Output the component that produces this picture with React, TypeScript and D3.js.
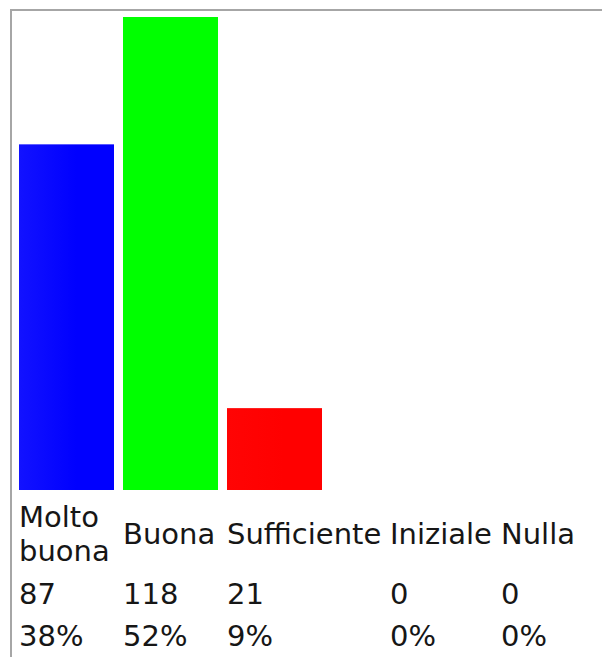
import React, { useMemo } from 'react';
import * as d3 from 'd3';

const categories: string[][] = [['Molto', 'buona'], ['Buona'], ['Sufficiente'], ['Iniziale'], ['Nulla']];
const counts: number[] = [87, 118, 21, 0, 0];
const percents: number[] = [38, 52, 9, 0, 0];
const colors: string[] = ['#0000ff', '#00ff00', '#ff0000', '#ffff00', '#000000'];
const lightColors: string[] = ['#1212ff', '#00ff00', '#ff0404', '#ffff00', '#000000'];

const W = 602;
const H = 657;
const FONT_SIZE = 29;
const FONT = `${FONT_SIZE}px "DejaVu Sans", Verdana, sans-serif`;
const BAR_W = 95;
const GAP = 9;
const LEFT = 19;
const LINE_H = 34;

export default function App() {
  const colX = useMemo(() => {
    const canvas = document.createElement('canvas');
    const ctx = canvas.getContext('2d')!;
    ctx.font = FONT;
    const xs: number[] = [];
    let x = LEFT;
    categories.forEach((lines, i) => {
      xs.push(x);
      const tw = d3.max(lines, (l) => ctx.measureText(l).width) ?? 0;
      const cw = Math.max(BAR_W, tw, ctx.measureText(String(counts[i])).width, ctx.measureText(percents[i] + '%').width);
      x += Math.round(cw) + GAP;
    });
    return xs;
  }, []);

  const y = d3.scaleLinear().domain([0, d3.max(percents) ?? 1]).range([490, 17]);

  const labelMid = 544;
  const countBase = 604;
  const pctBase = 646;

  return (
    <svg width={W} height={H} style={{ position: 'absolute', left: 0, top: 0 }}>
      <defs>
        {colors.map((c, i) => (
          <linearGradient key={i} id={`g${i}`} x1="0" x2="1" y1="0" y2="0">
            <stop offset="0" stopColor={lightColors[i]} />
            <stop offset="0.6" stopColor={c} />
            <stop offset="1" stopColor={c} />
          </linearGradient>
        ))}
      </defs>
      <rect x={0} y={0} width={W} height={H} fill="#ffffff" />
      <path d={`M11,${H} V10 H${W}`} fill="none" stroke="#a6a6a6" strokeWidth={2} />
      {percents.map((p, i) =>
        p > 0 ? (
          <rect
            key={i}
            x={colX[i]}
            y={y(p)}
            width={BAR_W}
            height={y(0) - y(p)}
            fill={`url(#g${i})`}
          />
        ) : null
      )}
      <g fontFamily='"DejaVu Sans", Verdana, sans-serif' fontSize={FONT_SIZE} fill="#161616">
        {categories.map((lines, i) => (
          <text key={`l${i}`} x={colX[i]}>
            {lines.map((l, j) => (
              <tspan key={j} x={colX[i]} y={labelMid + (j - (lines.length - 1) / 2) * LINE_H}>
                {l}
              </tspan>
            ))}
          </text>
        ))}
        {counts.map((c, i) => (
          <text key={`c${i}`} x={colX[i]} y={countBase}>
            {c}
          </text>
        ))}
        {percents.map((p, i) => (
          <text key={`p${i}`} x={colX[i]} y={pctBase}>
            {p}%
          </text>
        ))}
      </g>
    </svg>
  );
}
